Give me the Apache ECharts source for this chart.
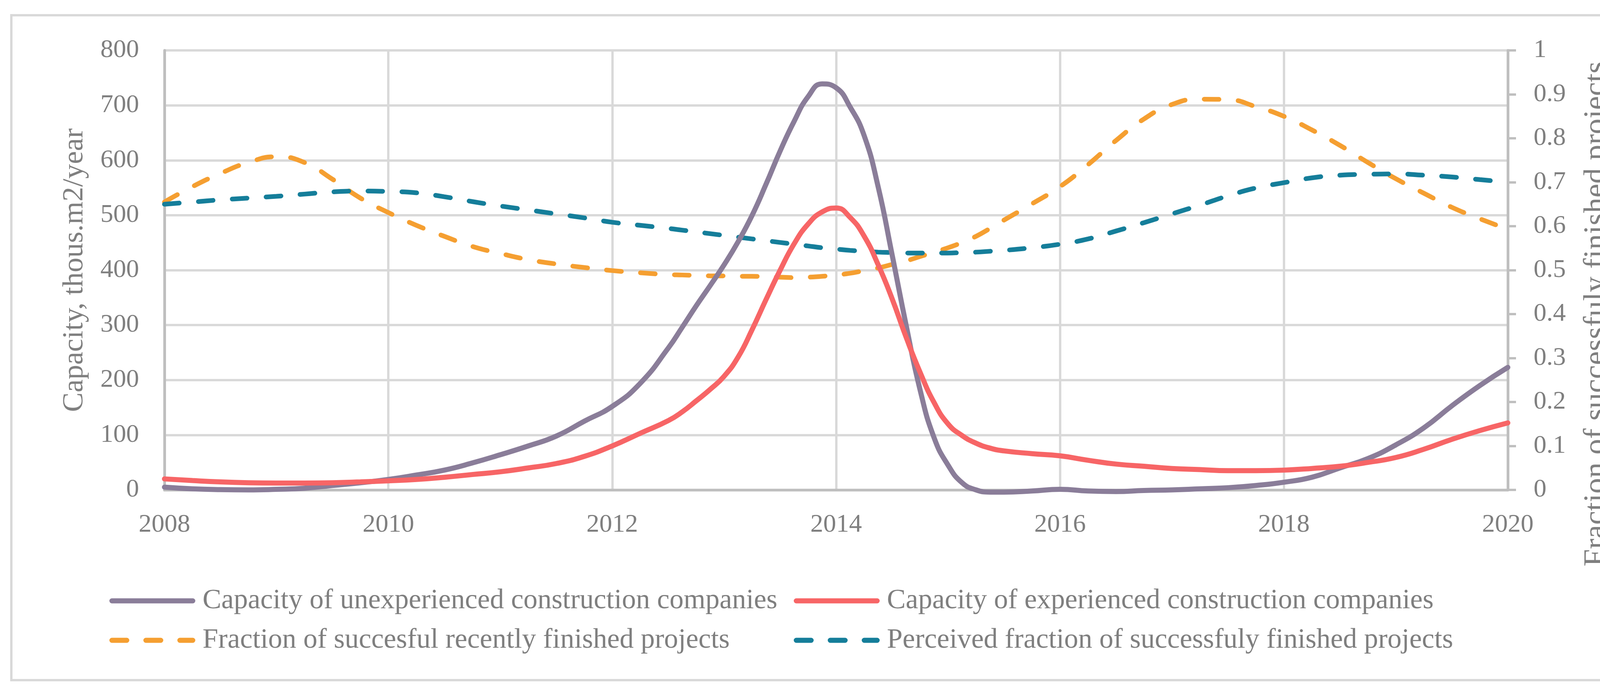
<!DOCTYPE html>
<html>
<head>
<meta charset="utf-8">
<script src="https://cdn.jsdelivr.net/npm/echarts@6/dist/echarts.min.js"></script>
<style>
html,body{margin:0;padding:0;background:#fff;}
#c{width:4262px;height:1779px;}
</style>
</head>
<body>
<div id="c"></div>
<script>
// ---- data ----
const years = [
  2008, 2008.25, 2008.5, 2008.75, 2009, 2009.25, 2009.5, 2009.75,
  2010, 2010.25, 2010.5, 2010.75, 2011, 2011.25, 2011.5, 2011.75,
  2012, 2012.25,
  2012.5, 2012.625, 2012.75, 2012.875, 2013, 2013.125, 2013.25, 2013.375,
  2013.5, 2013.625, 2013.75, 2013.875, 2014, 2014.125, 2014.25, 2014.375,
  2014.5, 2014.625, 2014.75, 2014.875, 2015, 2015.125, 2015.25, 2015.375,
  2015.5,
  2015.75, 2016, 2016.25, 2016.5, 2016.75, 2017, 2017.25, 2017.5, 2017.75,
  2018, 2018.25, 2018.5, 2018.75, 2019, 2019.25, 2019.5, 2019.75, 2020
];
const unexperienced = [
  5, 2, 0.5, 0, 1, 3, 8, 13,
  19, 27, 36, 49, 64, 80, 98, 125,
  152, 194,
  258, 296, 335, 372, 410, 452, 500, 557,
  617, 671, 716, 739, 732, 697, 645, 552,
  428, 300, 182, 95, 45, 13, 0, -4,
  -4,
  -2, 1, -2, -3, -1, 0, 2, 4, 8,
  14, 23, 40, 57, 82, 113, 153, 190, 223
];
const experienced = [
  20, 17, 14.5, 13, 12.5, 12.5, 13, 14.5,
  16.5, 19, 23, 28, 33, 40, 48, 61,
  80, 103,
  126, 142, 162, 183, 207, 242, 292, 347,
  400, 448, 484, 506, 513, 496, 462, 410,
  348, 278, 214, 159, 120, 99, 85, 76,
  71,
  66, 62, 54, 47, 43, 39, 37, 35, 35,
  36, 39, 43, 50, 59, 74, 92, 108, 122
];
const fractionRecent = [
  0.655, 0.69, 0.72, 0.745, 0.758, 0.745, 0.707, 0.664,
  0.631, 0.602, 0.577, 0.554, 0.538, 0.524, 0.514, 0.506,
  0.499, 0.494,
  0.490, 0.489, 0.488, 0.487, 0.487, 0.486, 0.486, 0.485,
  0.484, 0.483, 0.484, 0.486, 0.489, 0.493, 0.499, 0.505,
  0.513, 0.521, 0.531, 0.541, 0.551, 0.563, 0.577, 0.595,
  0.614,
  0.651, 0.690, 0.740, 0.795, 0.844, 0.877, 0.889, 0.888, 0.872,
  0.850, 0.819, 0.784, 0.745, 0.708, 0.675, 0.643, 0.617, 0.593
];
const fractionPerceived = [
  0.650, 0.655, 0.660, 0.664, 0.668, 0.673, 0.678, 0.680,
  0.679, 0.676, 0.667, 0.656, 0.646, 0.637, 0.628, 0.619,
  0.609, 0.602,
  0.595, 0.591, 0.587, 0.583, 0.579, 0.575, 0.571, 0.567,
  0.563, 0.559, 0.555, 0.551, 0.548, 0.545, 0.543, 0.541,
  0.540, 0.539, 0.539, 0.539, 0.539, 0.540, 0.541, 0.543,
  0.545,
  0.551, 0.559, 0.571, 0.589, 0.608, 0.628, 0.648, 0.669, 0.687,
  0.699, 0.710, 0.716, 0.718, 0.719, 0.716, 0.712, 0.706, 0.700
];
const seriesNames = [
  'Capacity of unexperienced construction companies',
  'Capacity of experienced construction companies',
  'Fraction of succesful recently finished projects',
  'Perceived fraction of successfuly finished projects'
];
const leftAxisTitle = 'Capacity, thous.m2/year';
const rightAxisTitle = 'Fraction of successfuly finished projects';

// ---- chart ----
const FONT = '"Liberation Serif", "Times New Roman", serif';
const TXT = '#7F7F7F';
const pairs = arr => years.map((x, i) => [x, arr[i]]);
const chart = echarts.init(document.getElementById('c'), null, {renderer: 'canvas'});

const legendCommon = {
  orient: 'horizontal', padding: 0, itemGap: 0,
  itemWidth: 207, itemHeight: 14, selectedMode: false,
  textStyle: {fontSize: 72, color: TXT, fontFamily: FONT, lineHeight: 80, padding: [0, 0, 0, 20]},
  lineStyle: {width: 13}
};

chart.setOption({
  backgroundColor: '#ffffff',
  animation: false,
  graphic: [{
    type: 'rect', z: -10, silent: true,
    shape: {x: 29, y: 39, width: 4202, height: 1702},
    style: {fill: '#ffffff', stroke: '#D9D9D9', lineWidth: 6}
  }],
  grid: {left: 421, right: 402, top: 129, bottom: 525, containLabel: false},
  legend: [
    Object.assign({left: 280, top: 1498, data: [seriesNames[0]]}, legendCommon),
    Object.assign({left: 2032, top: 1498, data: [seriesNames[1]]}, legendCommon),
    Object.assign({left: 280, top: 1599, data: [seriesNames[2]]}, legendCommon),
    Object.assign({left: 2032, top: 1599, data: [seriesNames[3]]}, legendCommon)
  ],
  xAxis: {
    type: 'value', min: 2008, max: 2020, interval: 2,
    axisLine: {show: true, onZero: false, lineStyle: {color: '#BFBFBF', width: 7}},
    axisTick: {show: false},
    splitLine: {show: true, lineStyle: {color: '#D9D9D9', width: 6}},
    axisLabel: {fontSize: 66, color: TXT, fontFamily: FONT, margin: 57, formatter: v => String(v)}
  },
  yAxis: [{
    type: 'value', min: 0, max: 800, interval: 100, position: 'left',
    name: leftAxisTitle, nameLocation: 'middle', nameGap: 192, nameRotate: 90,
    nameTextStyle: {fontSize: 75, color: TXT, fontFamily: FONT},
    axisLine: {show: true, lineStyle: {color: '#BFBFBF', width: 7}},
    axisTick: {show: false},
    splitLine: {show: true, lineStyle: {color: '#D9D9D9', width: 6}},
    axisLabel: {fontSize: 66, color: TXT, fontFamily: FONT, margin: 65}
  }, {
    type: 'value', min: 0, max: 1, interval: 0.1, position: 'right',
    name: rightAxisTitle, nameLocation: 'middle', nameGap: 188, nameRotate: 90,
    nameTextStyle: {fontSize: 80, color: TXT, fontFamily: FONT, padding: [0, 224, 0, 0]},
    axisLine: {show: true, lineStyle: {color: '#BFBFBF', width: 7}},
    axisTick: {show: true, inside: false, length: 21, lineStyle: {color: '#BFBFBF', width: 6}},
    splitLine: {show: false},
    axisLabel: {fontSize: 66, color: TXT, fontFamily: FONT, margin: 66}
  }],
  series: [{
    name: seriesNames[2], type: 'line', yAxisIndex: 1, data: pairs(fractionRecent),
    smooth: true, symbol: 'none', clip: false, z: 2,
    lineStyle: {color: '#F59F31', width: 12, cap: 'round', type: [38, 49]},
    itemStyle: {color: '#F59F31'}
  }, {
    name: seriesNames[3], type: 'line', yAxisIndex: 1, data: pairs(fractionPerceived),
    smooth: true, symbol: 'none', clip: false, z: 3,
    lineStyle: {color: '#157E9A', width: 12, cap: 'round', type: [38, 49]},
    itemStyle: {color: '#157E9A'}
  }, {
    name: seriesNames[0], type: 'line', yAxisIndex: 0, data: pairs(unexperienced),
    smooth: true, symbol: 'none', clip: false, z: 4,
    lineStyle: {color: '#8A7D99', width: 13, cap: 'round'},
    itemStyle: {color: '#8A7D99'}
  }, {
    name: seriesNames[1], type: 'line', yAxisIndex: 0, data: pairs(experienced),
    smooth: true, symbol: 'none', clip: false, z: 5,
    lineStyle: {color: '#F76566', width: 13, cap: 'round'},
    itemStyle: {color: '#F76566'}
  }]
});
</script>
</body>
</html>
